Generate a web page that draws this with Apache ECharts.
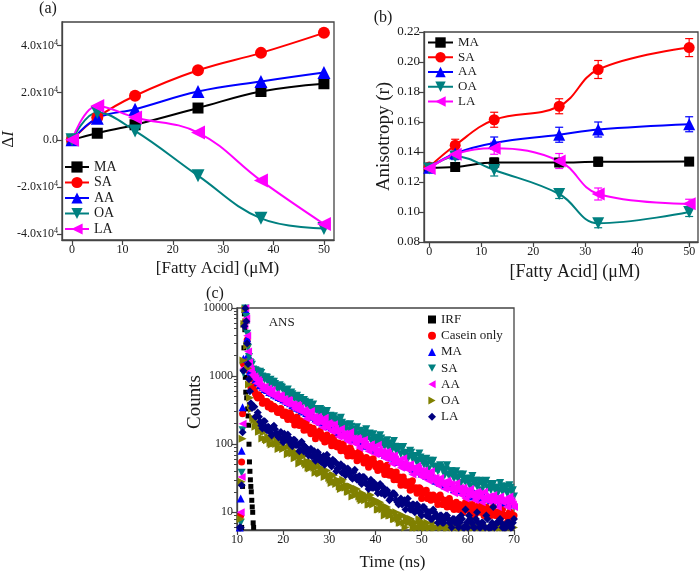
<!DOCTYPE html>
<html><head><meta charset="utf-8">
<script src="https://cdn.jsdelivr.net/npm/echarts@6/dist/echarts.min.js"></script>
<style>html,body{margin:0;padding:0;background:#fff}#c{width:700px;height:572px}</style>
</head><body><div id="c"></div><script>
const FONT = "'Liberation Serif','Times New Roman',serif";

// ---------- Panel (a): ΔI vs [Fatty Acid] ----------
const A_X = [0, 5, 12.5, 25, 37.5, 50];
const A_MA = [0, 2800, 6400, 13500, 20500, 23800];
const A_SA = [0, 9500, 18700, 29500, 36900, 45400];
const A_AA = [0, 9200, 13000, 20500, 24800, 28600];
const A_OA = [0, 11600, 3800, -15200, -33300, -37600];
const A_LA = [0, 14400, 9500, 3100, -17300, -35700];
const A_X_TICKS = [0, 10, 20, 30, 40, 50];
const A_Y_TICKS = [-40000, -20000, 0, 20000, 40000];

// ---------- Panel (b): anisotropy ----------
const B_X = [0, 5, 12.5, 25, 32.5, 50];
const B_MA = [0.1295, 0.1300, 0.1330, 0.1330, 0.1335, 0.1336];
const B_SA = [0.1300, 0.1445, 0.1615, 0.1705, 0.1950, 0.2096];
const B_AA = [0.1295, 0.1390, 0.1460, 0.1515, 0.1550, 0.1585];
const B_OA = [0.1290, 0.1370, 0.1280, 0.1120, 0.0925, 0.1000];
const B_LA = [0.1290, 0.1385, 0.1425, 0.1340, 0.1120, 0.1055];
const B_MA_ERR = [0.002, 0.002, 0.003, 0.002, 0.003, 0.002];
const B_SA_ERR = [0.002, 0.004, 0.005, 0.005, 0.006, 0.006];
const B_AA_ERR = [0.002, 0.004, 0.004, 0.005, 0.005, 0.005];
const B_OA_ERR = [0.002, 0.002, 0.004, 0.003, 0.003, 0.003];
const B_LA_ERR = [0.002, 0.003, 0.004, 0.005, 0.004, 0.003];
const B_X_TICKS = [0, 10, 20, 30, 40, 50];
const B_Y_TICKS = [0.08, 0.10, 0.12, 0.14, 0.16, 0.18, 0.20, 0.22];

// ---------- Panel (c): fluorescence decays ----------
const IRF_T = [11.0,11.2,11.4,11.5,11.6,11.7,11.8,11.9,12.1,12.3,12.4,12.5,12.6,12.7,12.8,12.9,13.0,13.1,13.2,13.3,13.4,13.5,13.6,13.7];
const IRF_V = [6,24,300,2600,8200,4800,960,580,480,330,260,190,100,55,40,30,24,20,15,12,10,7,6,5];
const T_RISE = [10.6,10.8,11.0,11.2,11.4,11.6,11.8,12.0,12.2,12.4,12.6,12.8];
const T_DECAY = [
 13,13.5,14,14.5,15,15.5,16,16.5,17,17.5,
 18,18.5,19,19.5,20,20.5,21,21.5,22,22.5,
 23,23.5,24,24.5,25,25.5,26,26.5,27,27.5,
 28,28.5,29,29.5,30,30.5,31,31.5,32,32.5,
 33,33.5,34,34.5,35,35.5,36,36.5,37,37.5,
 38,38.5,39,39.5,40,40.5,41,41.5,42,42.5,
 43,43.5,44,44.5,45,45.5,46,46.5,47,47.5,
 48,48.5,49,49.5,50,50.5,51,51.5,52,52.5,
 53,53.5,54,54.5,55,55.5,56,56.5,57,57.5,
 58,58.5,59,59.5,60,60.5,61,61.5,62,62.5,
 63,63.5,64,64.5,65,65.5,66,66.5,67,67.5,
 68,68.5,69,69.5,70];
const T_DECAY_B = [
 13.25,13.75,14.25,14.75,15.25,15.75,16.25,16.75,17.25,17.75,
 18.25,18.75,19.25,19.75,20.25,20.75,21.25,21.75,22.25,22.75,
 23.25,23.75,24.25,24.75,25.25,25.75,26.25,26.75,27.25,27.75,
 28.25,28.75,29.25,29.75,30.25,30.75,31.25,31.75,32.25,32.75,
 33.25,33.75,34.25,34.75,35.25,35.75,36.25,36.75,37.25,37.75,
 38.25,38.75,39.25,39.75,40.25,40.75,41.25,41.75,42.25,42.75,
 43.25,43.75,44.25,44.75,45.25,45.75,46.25,46.75,47.25,47.75,
 48.25,48.75,49.25,49.75,50.25,50.75,51.25,51.75,52.25,52.75,
 53.25,53.75,54.25,54.75,55.25,55.75,56.25,56.75,57.25,57.75,
 58.25,58.75,59.25,59.75,60.25,60.75,61.25,61.75,62.25,62.75,
 63.25,63.75,64.25,64.75,65.25,65.75,66.25,66.75,67.25,67.75,
 68.25,68.75,69.25,69.75];
const CAS_RISE = [5,9,55,280,1500,6000,9800,6600,3400,1800,1200,900];
const CAS_DECAY = [
 690,715,552,479,494,400,422,423,357,330,
 360,328,291,335,264,296,230,290,228,191,
 251,189,206,160,216,167,143,171,120,148,
 158,121,108,136,117,95,131,93,104,80,
 101,80,67,89,67,73,57,78,61,53,
 64,46,57,61,47,41,52,44,36,49,
 35,39,30,39,30,25,33,25,27,21,
 29,22,19,23,16,20,21,16,15,18,
 16,13,18,13,15,12,16,12,11,14,
 11,12,10,14,12,10,13,9,12,13,
 10,9,12,10,9,12,9,10,8,11,
 9,7,10,8,9];
const CAS_DECAY_B = [
 684,621,502,534,482,404,408,353,391,337,
 347,295,330,290,291,254,281,261,223,230,
 200,221,189,192,162,179,156,155,134,149,
 140,122,125,111,123,106,108,91,101,88,
 89,77,86,81,68,70,61,69,59,61,
 52,59,52,53,46,51,48,41,42,36,
 40,34,36,30,33,29,29,25,28,26,
 22,23,20,22,19,19,16,18,16,17,
 15,17,16,13,14,13,14,13,13,12,
 13,12,12,11,13,12,11,11,10,12,
 10,11,9,11,10,10,9,10,10,9,
 9,8,10,9];
const MA_RISE = [6,16,80,350,1800,6200,9700,6800,3600,2100,1500,1200];
const MA_DECAY = [
 1150,1010,895,815,735,695,645,625,585,570,
 535,520,495,478,452,438,415,400,378,362,
 343,331,313,303,288,277,261,252,238,228,
 213,208,198,193,183,178,168,163,153,148,
 139,137,130,127,119,117,111,108,102,100,
 95,93,88,87,82,81,76,75,70,69,
 65,64,59,59,55,55,51,51,47,47,
 43,43,40,40,37,37,34,35,32,33,
 29,30,27,28,25,26,24,25,22,23,
 21,22,20,21,18,19,17,19,17,18,
 16,17,16,17,15,16,15,16,14,16,
 14,15,14,15,13];
const SA_RISE = [5,7,38,160,1100,5200,9800,7400,4200,2600,1900,1600];
const SA_DECAY = [
 1550,1250,1220,1030,1155,985,895,945,775,825,
 825,700,640,695,620,550,635,520,540,465,
 513,445,400,447,380,388,336,383,327,297,
 330,235,290,307,233,206,258,220,179,244,
 173,195,153,196,157,133,177,135,150,119,
 166,130,114,140,102,126,135,102,91,114,
 98,81,111,80,91,71,91,72,61,80,
 61,67,53,73,57,50,61,43,54,57,
 44,40,49,43,35,49,35,40,31,40,
 32,27,36,28,31,24,34,27,24,29,
 21,27,29,23,21,26,23,19,27,20,
 24,19,25,20,17];
const SA_DECAY_B = [
 1468,1197,1183,1009,1107,946,962,805,883,764,
 764,665,732,675,577,594,518,575,494,506,
 430,478,418,421,368,407,377,323,330,286,
 316,272,279,236,262,230,232,202,223,207,
 177,183,161,180,157,163,140,158,141,144,
 128,144,136,119,123,109,121,105,108,92,
 103,91,92,81,90,85,73,75,66,75,
 64,67,57,64,57,58,51,57,53,46,
 47,42,46,41,42,36,40,35,36,32,
 36,34,29,31,27,31,27,29,25,28,
 25,26,23,26,25,22,23,21,24,21,
 23,20,23,21];
const AA_RISE = [4,10,33,200,1300,5600,9900,7000,3900,2300,1600,1300];
const AA_DECAY = [
 1208,928,927,879,714,642,689,620,546,627,
 516,536,465,512,444,399,447,379,386,332,
 380,325,296,317,238,293,308,233,206,254,
 215,176,244,175,198,154,196,154,129,168,
 126,140,110,151,116,102,123,88,109,116,
 89,79,100,86,71,98,70,79,62,78,
 63,52,68,52,58,45,62,49,42,51,
 36,45,48,36,33,41,35,29,40,29,
 32,25,32,26,22,29,22,25,19,27,
 21,18,23,16,20,22,17,15,20,17,
 14,20,15,17,14,18,15,12,17,14,
 15,12,17,14,12];
const AA_DECAY_B = [
 1051,996,786,828,701,690,597,659,612,524,
 540,472,525,451,463,393,437,381,381,332,
 367,341,293,302,263,291,249,255,214,236,
 207,209,184,205,192,164,169,147,163,139,
 144,122,137,121,122,107,119,111,96,99,
 87,97,84,87,75,83,74,74,65,73,
 68,58,60,53,59,51,53,45,50,44,
 44,39,44,41,35,37,32,36,32,32,
 27,30,27,27,24,27,26,22,23,21,
 23,20,21,18,20,18,19,17,19,18,
 16,17,15,17,15,16,14,16,15,15,
 14,16,15,13];
const OA_RISE = [5,8,28,120,1700,5800,9600,6200,2800,1300,750,480];
const OA_DECAY = [
 369,242,181,202,155,121,161,114,127,99,
 127,101,85,112,85,92,71,96,73,62,
 75,52,65,67,50,45,55,47,38,52,
 37,42,33,41,32,27,35,26,28,22,
 30,23,20,24,17,21,22,17,15,18,
 16,13,18,13,15,11,14,11,9,12,
 9,10,8,10,8,7,9,6,8,8,
 7,6,6,8,6,7,6,5,6,7,
 6,5,7,6,5,6,6,5,7,6,
 5,6,6,5,6,5,7,6,5,6,
 6,5,6,6,5,6,5,6,6,5,
 6,5,6,5,6];
const OA_DECAY_B = [
 328,227,203,152,168,149,118,126,104,125,
 103,110,88,106,88,90,75,87,80,64,
 68,56,66,53,56,44,53,45,46,38,
 45,41,34,36,30,35,28,30,24,28,
 24,25,20,24,22,18,19,16,19,15,
 17,13,16,14,14,11,13,12,10,11,
 9,10,8,9,7,9,7,8,7,8,
 6,7,6,7,5,6,7,6,5,6,
 6,5,6,7,5,6,5,6,6,5,
 6,6,5,6,5,6,6,5,6,5,
 5,6,6,5,6,5,6,5,6,6,
 5,6,5,6];
const LA_RISE = [6,6,25,150,1200,5400,9900,6400,3000,1500,900,600];
const LA_DECAY = [
 401,357,252,293,214,170,217,160,173,134,
 186,145,126,151,107,133,139,106,93,115,
 97,79,109,78,88,68,86,68,57,76,
 58,64,50,70,54,47,56,40,49,51,
 39,35,44,38,31,42,30,34,26,33,
 27,22,30,23,25,19,26,20,18,21,
 15,18,19,15,13,16,14,11,16,11,
 13,10,13,10,9,12,9,10,8,11,
 9,7,9,7,8,9,7,6,8,7,
 6,9,6,11,6,8,7,6,10,6,
 7,5,9,6,6,12,5,7,8,6,
 6,7,7,6,8];
const LA_DECAY_B = [
 340,354,260,254,189,218,178,181,149,178,
 166,135,144,120,143,117,123,98,116,97,
 99,83,99,92,74,79,66,79,65,69,
 55,67,57,60,50,59,55,44,46,38,
 46,38,40,33,39,33,33,28,33,31,
 25,27,23,27,22,24,19,23,19,19,
 16,19,18,14,15,13,15,13,13,11,
 13,11,12,10,12,11,9,10,8,10,
 9,8,9,7,9,8,7,8,7,8,
 7,8,6,7,9,7,6,8,7,6,
 7,6,8,6,7,6,7,5,7,6,
 6,7,6,7];
const C_X_TICKS = [10, 20, 30, 40, 50, 60, 70];
const C_Y_TICKS = [10, 100, 1000, 10000];
const C_Y_MINOR = [6,7,8,9,20,30,40,50,60,70,80,90,200,300,400,500,600,700,800,900,2000,3000,4000,5000,6000,7000,8000,9000];

const NAMES_AB = ['MA', 'SA', 'AA', 'OA', 'LA'];
const NAMES_C = ['IRF', 'Casein only', 'MA', 'SA', 'AA', 'OA', 'LA'];

// ---------- styling ----------
const AXC = '#444';
const TXT = '#1a1a1a';
const COL = { MA: '#000000', SA: '#ff0000', AA: '#0000ff', OA: '#008080', LA: '#ff00ff' };
const COLC = { 'IRF': '#000000', 'Casein only': '#ff0000', 'MA': '#0000ff', 'SA': '#008080', 'AA': '#ff00ff', 'OA': '#808000', 'LA': '#000080' };
const DOWN = 'path://M0,0L10,0L5,9Z';
const LEFT = 'path://M0,5L9,0L9,10Z';
const RIGHT = 'path://M0,0L9,5L0,10Z';
const SYM = { MA: ['rect', 11], SA: ['circle', 12], AA: ['triangle', 13], OA: [DOWN, 13], LA: [LEFT, 14] };
const SYMC = { 'IRF': ['rect', 5], 'Casein only': ['circle', 7], 'MA': ['triangle', 8], 'SA': [DOWN, 8], 'AA': [LEFT, 8], 'OA': [RIGHT, 8], 'LA': ['diamond', 8] };

function zip(xs, ys) { return xs.map((x, i) => [x, ys[i]]); }

function axis(o) {
  const base = {
    axisLine: { show: true, onZero: false, lineStyle: { color: AXC, width: 1.3 } },
    axisTick: { show: true, inside: false, length: 5, lineStyle: { color: AXC, width: 1.2 }, customValues: o.ticks },
    axisLabel: { show: true, color: TXT, fontFamily: FONT, fontSize: o.fs || 12, margin: 4, customValues: o.ticks, formatter: o.fmt },
    splitLine: { show: false },
    minorTick: { show: false }
  };
  if (o.rich) { base.axisLabel.rich = o.rich; base.axisLabel.lineHeight = 14; }
  delete o.ticks; delete o.fmt; delete o.fs; delete o.rich;
  return Object.assign(base, o);
}

const gridStyle = { show: true, borderColor: AXC, borderWidth: 1.3, backgroundColor: 'transparent', containLabel: false, outerBoundsMode: 'none' };

const series = [];
const A_DATA = { MA: A_MA, SA: A_SA, AA: A_AA, OA: A_OA, LA: A_LA };
const B_DATA = { MA: B_MA, SA: B_SA, AA: B_AA, OA: B_OA, LA: B_LA };
const B_ERR = { MA: B_MA_ERR, SA: B_SA_ERR, AA: B_AA_ERR, OA: B_OA_ERR, LA: B_LA_ERR };

NAMES_AB.forEach(n => {
  series.push({
    type: 'line', name: 'a|' + n, xAxisIndex: 0, yAxisIndex: 0,
    data: zip(A_X, A_DATA[n]), smooth: 0.4, showSymbol: true,
    symbol: SYM[n][0], symbolSize: SYM[n][1],
    lineStyle: { width: 2, color: COL[n] }, itemStyle: { color: COL[n] }
  });
});
NAMES_AB.forEach(n => {
  const c = COL[n];
  series.push({
    type: 'custom', name: 'err|' + n, xAxisIndex: 1, yAxisIndex: 1, z: 1,
    data: B_X.map((x, i) => [x, B_DATA[n][i], B_ERR[n][i]]),
    encode: { x: 0, y: 1 },
    renderItem: (params, api) => {
      const x = api.value(0), y = api.value(1), e = api.value(2);
      const t = api.coord([x, y + e]), b = api.coord([x, y - e]);
      const w = 4, st = { stroke: c, lineWidth: 1.2 };
      return { type: 'group', children: [
        { type: 'line', shape: { x1: t[0], y1: t[1], x2: b[0], y2: b[1] }, style: st },
        { type: 'line', shape: { x1: t[0] - w, y1: t[1], x2: t[0] + w, y2: t[1] }, style: st },
        { type: 'line', shape: { x1: b[0] - w, y1: b[1], x2: b[0] + w, y2: b[1] }, style: st }
      ] };
    }
  });
});
NAMES_AB.forEach(n => {
  series.push({
    type: 'line', name: 'b|' + n, xAxisIndex: 1, yAxisIndex: 1,
    data: zip(B_X, B_DATA[n]), smooth: 0.4, showSymbol: true,
    symbol: SYM[n][0], symbolSize: SYM[n][1] - 1,
    lineStyle: { width: 2, color: COL[n] }, itemStyle: { color: COL[n] }
  });
});
const C_DATA = {
  'IRF': zip(IRF_T, IRF_V),
  'Casein only': zip(T_RISE, CAS_RISE).concat(zip(T_DECAY, CAS_DECAY), zip(T_DECAY_B, CAS_DECAY_B)),
  'MA': zip(T_RISE, MA_RISE).concat(zip(T_DECAY, MA_DECAY)),
  'SA': zip(T_RISE, SA_RISE).concat(zip(T_DECAY, SA_DECAY), zip(T_DECAY_B, SA_DECAY_B)),
  'AA': zip(T_RISE, AA_RISE).concat(zip(T_DECAY, AA_DECAY), zip(T_DECAY_B, AA_DECAY_B)),
  'OA': zip(T_RISE, OA_RISE).concat(zip(T_DECAY, OA_DECAY), zip(T_DECAY_B, OA_DECAY_B)),
  'LA': zip(T_RISE, LA_RISE).concat(zip(T_DECAY, LA_DECAY), zip(T_DECAY_B, LA_DECAY_B))
};
NAMES_C.forEach(n => {
  series.push({
    type: 'scatter', name: 'c|' + n, xAxisIndex: 2, yAxisIndex: 2, clip: true,
    data: C_DATA[n], symbol: SYMC[n][0], symbolSize: SYMC[n][1],
    itemStyle: { color: COLC[n], opacity: 1 }
  });
});

const nameFmt = s => s.split('|')[1];
const legendBase = { orient: 'vertical', padding: 0, selectedMode: false, formatter: nameFmt, inactiveColor: '#ccc' };

function title(x, y, text, size, rot, rich) {
  const st = { text: text, x: 0, y: 0, fontFamily: FONT, fontSize: size, fill: TXT, align: 'center', verticalAlign: 'middle', textAlign: 'center', textVerticalAlign: 'middle' };
  if (rich) st.rich = rich;
  return { type: 'text', x: x, y: y, rotation: rot ? Math.PI / 2 : 0, style: st, silent: true };
}

const option = {
  animation: false,
  backgroundColor: '#fff',
  textStyle: { fontFamily: FONT },
  grid: [
    Object.assign({ left: 62, top: 22, width: 272, height: 218 }, gridStyle),
    Object.assign({ left: 424, top: 32, width: 274, height: 210 }, gridStyle),
    Object.assign({ left: 237, top: 308, width: 277, height: 222 }, gridStyle)
  ],
  xAxis: [
    axis({ type: 'value', gridIndex: 0, min: -2, max: 52, ticks: A_X_TICKS, fs: 12 }),
    axis({ type: 'value', gridIndex: 1, min: -1, max: 51.7, ticks: B_X_TICKS, fs: 12 }),
    axis({ type: 'value', gridIndex: 2, min: 10, max: 70, ticks: C_X_TICKS, fs: 12 })
  ],
  yAxis: [
    axis({ type: 'value', gridIndex: 0, min: -42500, max: 50000, ticks: A_Y_TICKS, fs: 12,
      fmt: v => v === 0 ? '0.0' : (v / 1e4).toFixed(1) + 'x10{s|4}',
      rich: { s: { fontSize: 8, verticalAlign: 'top', lineHeight: 14, color: TXT, fontFamily: FONT } } }),
    axis({ type: 'value', gridIndex: 1, min: 0.08, max: 0.22, ticks: B_Y_TICKS, fs: 13, fmt: v => v.toFixed(2) }),
    axis({ type: 'log', logBase: 10, gridIndex: 2, min: 5.5, max: 10000, ticks: C_Y_TICKS, fs: 12, position: 'left', fmt: v => String(Math.round(v)) }),
    { type: 'log', logBase: 10, gridIndex: 2, min: 5.5, max: 10000, position: 'left', offset: 0,
      axisLine: { show: false }, axisLabel: { show: false }, splitLine: { show: false },
      axisTick: { show: true, inside: false, length: 3, lineStyle: { color: AXC, width: 1 }, customValues: C_Y_MINOR } }
  ],
  legend: [
    Object.assign({ left: 64, top: 160, itemWidth: 24, itemHeight: 14, itemGap: 1.5, itemTextGap: 3,
      textStyle: { fontFamily: FONT, fontSize: 14, color: TXT }, data: NAMES_AB.map(n => 'a|' + n) }, legendBase),
    Object.assign({ left: 427, top: 36, itemWidth: 25, itemHeight: 13, itemGap: 1.75, itemTextGap: 4,
      textStyle: { fontFamily: FONT, fontSize: 13, color: TXT }, data: NAMES_AB.map(n => 'b|' + n) }, legendBase),
    Object.assign({ left: 428, top: 313, itemWidth: 8, itemHeight: 8, itemGap: 3.2, itemTextGap: 10,
      textStyle: { fontFamily: FONT, fontSize: 13, color: TXT }, data: NAMES_C.map(n => 'c|' + n) }, legendBase)
  ],
  graphic: [
    title(48, 9, '(a)', 16, false),
    title(383, 18, '(b)', 16, false),
    title(215, 294, '(c)', 16, false),
    title(9, 139.5, '{n|Δ}{i|I}', 17, true, { n: { fontFamily: FONT, fontSize: 17, fill: TXT, color: TXT }, i: { fontFamily: FONT, fontSize: 17, fontStyle: 'italic', fill: TXT, color: TXT } }),
    title(217.5, 269, '[Fatty Acid] (μM)', 17, false),
    title(384.5, 136.5, 'Anisotropy (r)', 19, true),
    title(574.7, 272.5, '[Fatty Acid] (μM)', 18, false),
    title(195, 402, 'Counts', 19, true),
    title(392.5, 563, 'Time (ns)', 17, false),
    title(281.7, 322.7, 'ANS', 13, false)
  ],
  series: series
};

const chart = echarts.init(document.getElementById('c'), null, { renderer: 'canvas' });
chart.setOption(option);
</script></body></html>
